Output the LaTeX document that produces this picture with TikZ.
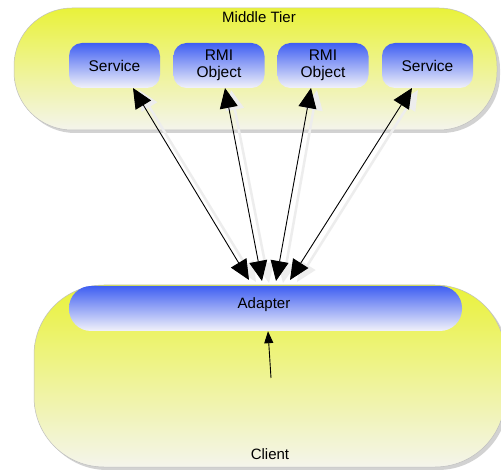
\documentclass[tikz,border=0pt]{standalone}
\usepackage{fontspec}
\setmainfont{Liberation Sans}
\usetikzlibrary{arrows.meta,shadows,calc}
\definecolor{tieryellow}{HTML}{E9F23A}
\definecolor{tiermid}{HTML}{F2F68A}
\definecolor{tierpale}{HTML}{F4F4EC}
\definecolor{boxblue}{HTML}{3F5FF2}
\definecolor{boxpale}{HTML}{F2F2FA}
\begin{document}
\begin{tikzpicture}[x=1pt,y=-1pt,
  tier/.style={draw=black!25,line width=0.5pt,top color=tieryellow,middle color=tiermid,bottom color=tierpale,
    drop shadow={shadow xshift=3pt,shadow yshift=-3pt,opacity=0.35}},
  comp/.style={inner sep=0pt,rounded corners=13pt,top color=boxblue,bottom color=boxpale,
    minimum width=91pt,minimum height=45pt,align=center,font=\fontsize{15.5}{17}\selectfont},
  link/.style={line width=0.9pt,{Triangle[length=20pt,width=18pt]}-{Triangle[length=20pt,width=18pt]}},
  ghost/.style={line width=2.5pt,black!7,{Triangle[length=20pt,width=18pt]}-{Triangle[length=20pt,width=18pt]}},
  lbl/.style={font=\fontsize{15}{17}\selectfont}]
\useasboundingbox (0,0) rectangle (501,470);
\fill[white] (0,0) rectangle (501,470);

% middle tier
\path[tier,rounded corners=58pt] (14,8) rectangle (497,130);
\node[lbl] (midlbl) at (259,17) {Middle Tier};
\node[comp] (s1) at (114.5,65.5) {Service};
\node[comp] (r1) at (219,65.5) {RMI\\Object};
\node[comp] (r2) at (323,65.5) {RMI\\Object};
\node[comp] (s2) at (427.5,65.5) {Service};

% client tier
\path[tier,rounded corners=70pt] (34,285) rectangle (505,467);
\node[comp,minimum width=393pt,rounded corners=22pt] (adapter) at (265.5,308.5) {};
\node[lbl] (adlbl) at (264,305) {Adapter};
\node[lbl] (cllbl) at (270,454) {Client};

% connector ends
\coordinate (e1) at (133,88);
\coordinate (e2) at (225,88);
\coordinate (e3) at (311,88);
\coordinate (e4) at (412,88);
\coordinate (t1) at (249,280);
\coordinate (t2) at (262,281);
\coordinate (t3) at (276,281);
\coordinate (t4) at (290,280);

% faint shadows of the connectors
\foreach \a/\b in {e1/t1,e2/t2,e3/t3,e4/t4}
  \draw[ghost] ($(\a)+(6,2)$) -- ($(\b)+(7,2)$);

\foreach \a/\b in {e1/t1,e2/t2,e3/t3,e4/t4}
  \draw[link] (\a) -- (\b);

\coordinate (cl) at (271,378);
\draw[line width=0.9pt,-{Triangle[length=12pt,width=9pt]}] (cl) -- (adapter.south -| 268,0);
\end{tikzpicture}
\end{document}
